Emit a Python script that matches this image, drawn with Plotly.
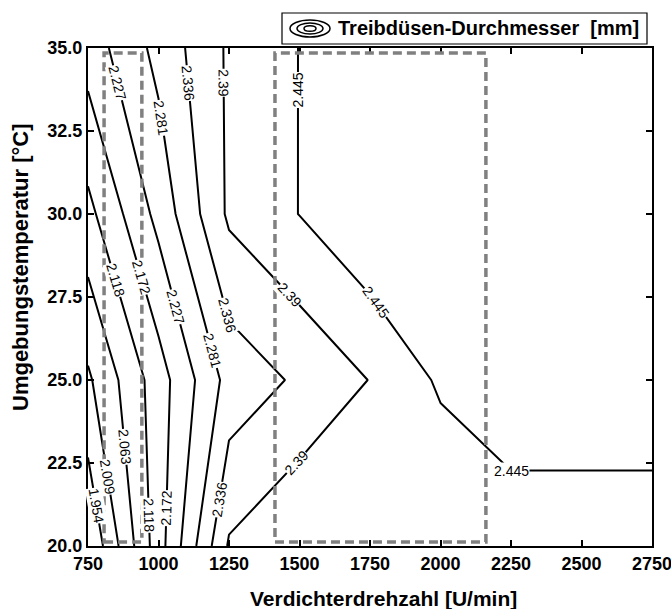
import math
import plotly.graph_objects as go

# ---------------- data ----------------
speed = [750, 1000, 1250, 1500, 1750, 2000, 2250, 2500, 2750]          # U/min
temp = [20.0, 25.0, 30.0, 35.0]                                         # °C
diameter_20 = [1.902, 2.148, 2.397, 2.440, 2.430, 2.395, 2.420, 2.420, 2.420]
diameter_25 = [2.000, 2.147, 2.301, 2.345, 2.392, 2.453, 2.475, 2.475, 2.475]
diameter_30 = [2.102, 2.2435, 2.400, 2.446, 2.495, 2.490, 2.490, 2.490, 2.490]
diameter_35 = [2.197, 2.298, 2.3985, 2.446, 2.470, 2.480, 2.490, 2.490, 2.490]

level_start = 1.9543
level_step = 0.05452
level_count = 10

x_ticks = [750, 1000, 1250, 1500, 1750, 2000, 2250, 2500, 2750]
y_ticks = [20.0, 22.5, 25.0, 27.5, 30.0, 32.5, 35.0]

box_speed_a = [807, 941]
box_speed_b = [1413, 2161]
box_temp = [20.12, 34.85]

# contour label placement: (level index, axis the position is given on, value)
label_spots = [
    (5, "y", 33.95), (6, "y", 32.9), (7, "y", 33.95), (8, "y", 33.95), (9, "y", 33.75),
    (3, "y", 28.0), (4, "y", 28.1), (5, "y", 27.2), (6, "y", 25.9), (7, "y", 26.96),
    (8, "y", 27.56), (9, "x", 1770),
    (2, "y", 22.98), (1, "y", 22.08), (0, "y", 21.23), (3, "y", 20.93), (4, "y", 21.14),
    (7, "y", 21.39), (8, "y", 22.5), (9, "x", 2253),
]

x_title = "Verdichterdrehzahl [U/min]"
y_title = "Umgebungstemperatur [°C]"
legend_text = "Treibdüsen-Durchmesser&nbsp; [mm]"

# ---------------- figure ----------------
W, H = 671, 609
ML, MR, MT, MB = 88, 19, 48, 63
PW, PH = W - ML - MR, H - MT - MB
FONT = "Liberation Sans, Arial, sans-serif"
XR, YR = [750, 2750], [20, 35]

z = [diameter_20, diameter_25, diameter_30, diameter_35]
levels = [level_start + k * level_step for k in range(level_count)]


def px(xp):
    return (xp - ML) / PW


def py(yp):
    return (H - MB - yp) / PH


def segments(level):
    """Straight contour pieces per grid cell (linear interpolation on cell edges)."""
    segs = []
    for i in range(len(temp) - 1):
        for j in range(len(speed) - 1):
            x0, x1, y0, y1 = speed[j], speed[j + 1], temp[i], temp[i + 1]
            corners = [((x0, y0), z[i][j]), ((x1, y0), z[i][j + 1]),
                       ((x1, y1), z[i + 1][j + 1]), ((x0, y1), z[i + 1][j])]
            pts = []
            for k in range(4):
                (pa, za), (pb, zb) = corners[k], corners[(k + 1) % 4]
                if (za - level) * (zb - level) < 0:
                    t = (level - za) / (zb - za)
                    pts.append((pa[0] + t * (pb[0] - pa[0]), pa[1] + t * (pb[1] - pa[1])))
            if len(pts) == 2:
                segs.append(tuple(pts))
    return segs


def label_at(level, axis, value):
    for (ax, ay), (bx, by) in segments(level):
        a, b = (ax, bx) if axis == "x" else (ay, by)
        if a != b and min(a, b) <= value <= max(a, b):
            t = (value - a) / (b - a)
            xx, yy = ax + t * (bx - ax), ay + t * (by - ay)
            dx = (bx - ax) * PW / (XR[1] - XR[0])
            dy = -(by - ay) * PH / (YR[1] - YR[0])
            if dx < 0 or (dx == 0 and dy < 0):
                dx, dy = -dx, -dy
            return xx, yy, math.degrees(math.atan2(dy, dx))
    return None


fig = go.Figure()
fig.add_trace(go.Contour(
    x=speed, y=temp, z=z,
    contours=dict(start=levels[0], end=levels[-1] + level_step / 2, size=level_step,
                  coloring="lines", showlabels=False),
    colorscale=[[0, "black"], [1, "black"]],
    showscale=False,
    line=dict(width=2, smoothing=0),
    hoverinfo="skip",
))

annotations = []
for idx, axis, value in label_spots:
    res = label_at(levels[idx], axis, value)
    if res is None:
        continue
    lx, ly, ang = res
    annotations.append(dict(text=f"{levels[idx]:.4g}", x=lx, y=ly, xref="x", yref="y",
                            textangle=ang, showarrow=False, bgcolor="white",
                            borderpad=0, xanchor="center", yanchor="middle",
                            font=dict(family=FONT, size=14, color="black")))

shapes = []
for bx in (box_speed_a, box_speed_b):
    shapes.append(dict(type="rect", xref="x", yref="y",
                       x0=bx[0], x1=bx[1], y0=box_temp[0], y1=box_temp[1],
                       line=dict(color="#808080", width=3.5, dash="9px,5px"),
                       layer="above"))

# legend box with contour icon
shapes.append(dict(type="rect", xref="paper", yref="paper",
                   x0=px(282), x1=px(647), y0=py(44), y1=py(13),
                   line=dict(color="black", width=1.2), fillcolor="white"))
cx, cy = 310, 28.5
for hw, hh in ((20, 8.5), (13, 5.5), (6, 2.8)):
    shapes.append(dict(type="circle", xref="paper", yref="paper",
                       x0=px(cx - hw), x1=px(cx + hw),
                       y0=py(cy + hh), y1=py(cy - hh),
                       line=dict(color="black", width=1.5)))

annotations += [
    dict(text="<b>" + legend_text + "</b>", xref="paper", yref="paper",
         x=px(336), y=py(cy), xanchor="left", yanchor="middle",
         showarrow=False, font=dict(family=FONT, size=20, color="black")),
    dict(text="<b>" + x_title + "</b>", xref="paper", yref="paper",
         x=px(383), y=py(598), xanchor="center", yanchor="middle",
         showarrow=False, font=dict(family=FONT, size=21, color="black")),
    dict(text="<b>" + y_title + "</b>", xref="paper", yref="paper",
         x=px(20), y=py(268), xanchor="center", yanchor="middle",
         textangle=-90, showarrow=False,
         font=dict(family=FONT, size=22, color="black")),
]

axis_common = dict(ticks="inside", ticklen=6, tickwidth=1.5, tickcolor="black",
                   showline=True, linewidth=2, linecolor="black", mirror="ticks",
                   showgrid=False, zeroline=False, ticklabeloverflow="allow",
                   automargin=False,
                   tickfont=dict(family=FONT, size=18, color="black", weight="bold"))

fig.update_layout(
    width=W, height=H,
    margin=dict(l=ML, r=MR, t=MT, b=MB, autoexpand=False),
    paper_bgcolor="white", plot_bgcolor="white",
    showlegend=False,
    xaxis=dict(range=XR, tickvals=x_ticks, **axis_common),
    yaxis=dict(range=YR, tickvals=y_ticks, tickformat=".1f", **axis_common),
    shapes=shapes,
    annotations=annotations,
)

fig.write_html("out.html")
